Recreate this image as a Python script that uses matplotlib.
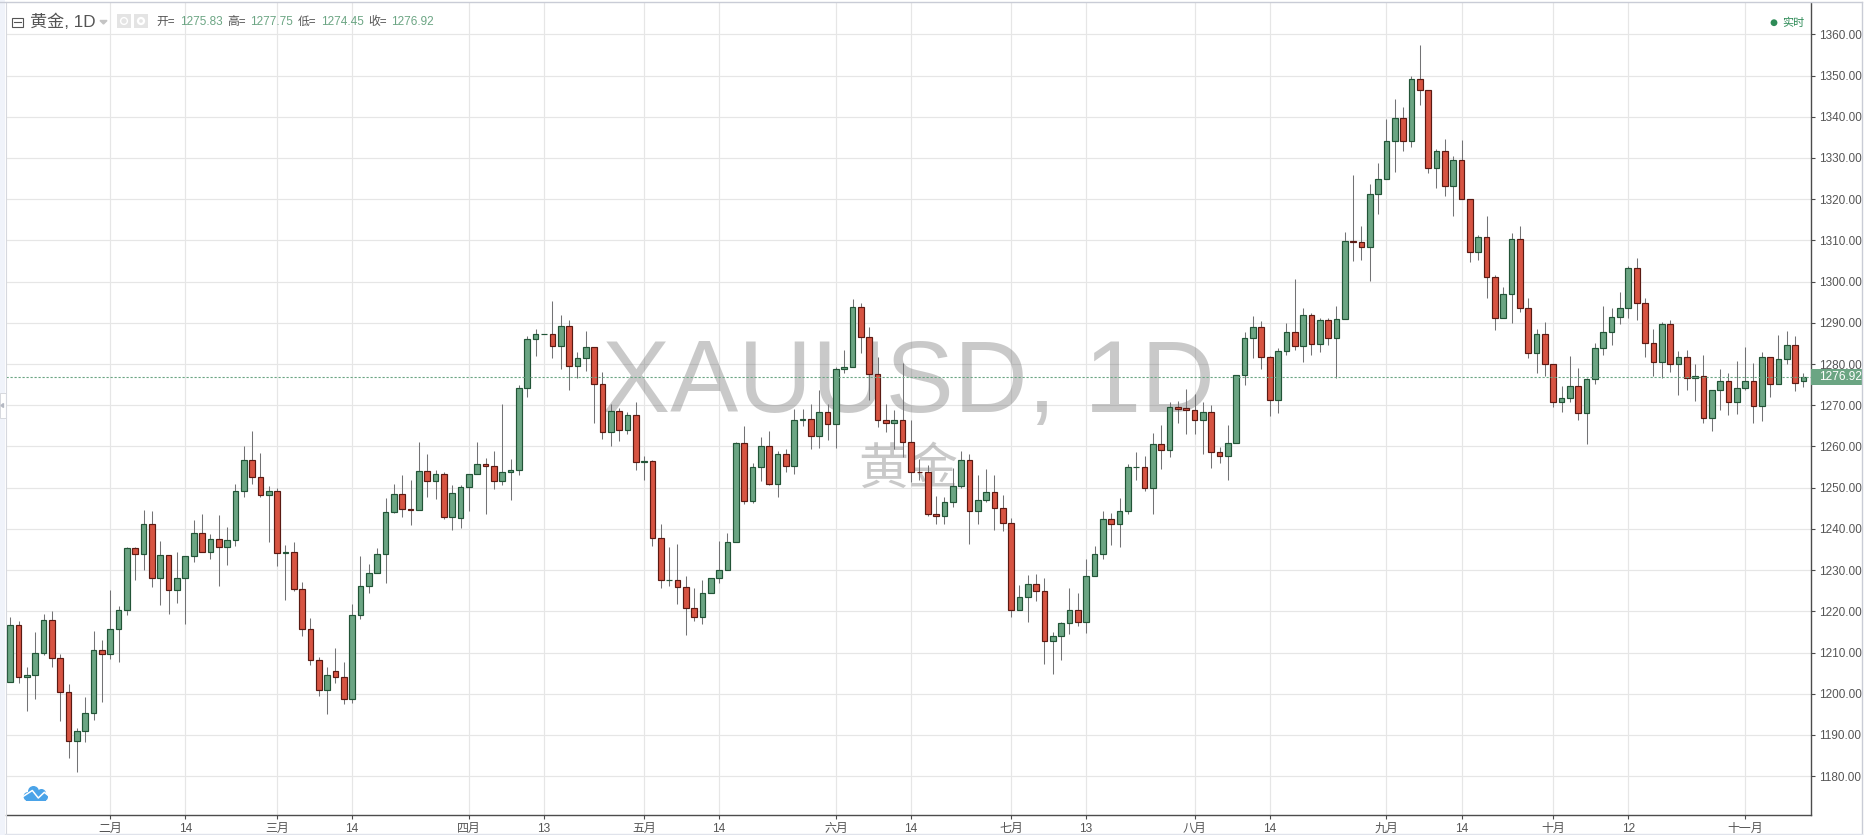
import matplotlib
matplotlib.use('Agg')
import matplotlib.pyplot as plt
from matplotlib.patches import Rectangle, Circle

plt.rcParams['font.family'] = ['Liberation Sans', 'Noto Sans CJK SC', 'DejaVu Sans']

# daily bars
opens = [
    1202.8, 1216.6, 1204, 1204.5, 1209.8, 1217.8, 1208.6, 1200.4, 1188.5, 1190.9,
    1195.3, 1210.5, 1209.6, 1215.6, 1220.2, 1235.3, 1233.8, 1241.3, 1228.2, 1233.6,
    1225.1, 1228.2, 1233.3, 1238.9, 1234.3, 1237.5, 1235.5, 1237.2, 1249.3, 1256.8,
    1252.7, 1248.1, 1249.3, 1234.1, 1234.3, 1225.3, 1215.6, 1208.2, 1200.8, 1205.5,
    1204.1, 1198.8, 1219.2, 1226.2, 1229.2, 1234, 1244.2, 1248.5, 1244.9, 1244.7,
    1254.1, 1251.7, 1253.2, 1242.9, 1242.6, 1250.2, 1253.4, 1255.8, 1255.3, 1251.7,
    1253.9, 1254.4, 1274.2, 1286.1, 1287.2, 1287.3, 1284.4, 1289.3, 1279.6, 1281.5,
    1284.2, 1275.2, 1263.6, 1268.7, 1264.1, 1267.7, 1256.3, 1256.5, 1237.9, 1227.5,
    1227.7, 1225.8, 1220.9, 1218.7, 1224.5, 1228.2, 1230.1, 1236.7, 1260.9, 1246.8,
    1255.1, 1260.2, 1251, 1258.2, 1255.3, 1266.5, 1266.7, 1262.5, 1268.4, 1265.5,
    1278.8, 1279.3, 1293.9, 1286.6, 1277.6, 1266.5, 1265.6, 1266.3, 1261, 1253.8,
    1253.7, 1243.5, 1243.1, 1246.4, 1250.3, 1256.6, 1244.3, 1246.9, 1248.9, 1245,
    1241.4, 1220.3, 1223.4, 1226.6, 1224.9, 1212.7, 1214, 1217.1, 1220.3, 1217.4,
    1228.5, 1233.8, 1242.3, 1241.1, 1244.3, 1254.9, 1254.9, 1249.8, 1260.7, 1259.1,
    1269.5, 1269.3, 1268.8, 1266.4, 1268.3, 1258.6, 1257.7, 1260.8, 1277.3, 1286.3,
    1288.9, 1281.7, 1271.2, 1283.1, 1287.7, 1284.3, 1291.8, 1284.8, 1290.6, 1286.3,
    1290.9, 1309.8, 1309.5, 1308.5, 1321.2, 1324.8, 1334, 1339.6, 1334, 1349.1,
    1346.4, 1327.5, 1331.8, 1323.1, 1329.4, 1320, 1307.3, 1310.9, 1301, 1291.1,
    1297.1, 1310.4, 1293.5, 1282.6, 1287.2, 1279.9, 1270.7, 1271.7, 1274.6, 1268,
    1276.3, 1283.8, 1287.7, 1291.5, 1293.5, 1303.4, 1294.9, 1285, 1280.6, 1289.6,
    1280.1, 1281.8, 1276.5, 1277.2, 1266.8, 1273.8, 1276, 1270.9, 1274.3, 1275.8,
    1269.7, 1281.6, 1275.1, 1281.1, 1284.7, 1275.83,
]
highs = [
    1218.6, 1217.7, 1206.5, 1215, 1219.4, 1220.1, 1209.6, 1202.4, 1191.6, 1199.2,
    1215.2, 1213.1, 1225.2, 1221.2, 1235.5, 1235.5, 1244.6, 1244.3, 1237, 1233.6,
    1234.4, 1233.3, 1242.1, 1243.6, 1238.7, 1243.4, 1240.4, 1250.8, 1260, 1263.7,
    1258.4, 1250.5, 1249.8, 1236, 1236.7, 1227, 1218.4, 1208.9, 1206.4, 1211.2,
    1207.6, 1221.7, 1233.4, 1231.4, 1235.3, 1247.4, 1251, 1253, 1251.8, 1261,
    1258.1, 1254.4, 1253.7, 1250.6, 1250.6, 1253.4, 1261, 1257.1, 1258.8, 1270.4,
    1256.9, 1275, 1286.7, 1288.4, 1287.4, 1295.4, 1292, 1290.6, 1283, 1288.1,
    1284.2, 1278, 1270.4, 1269.4, 1268.3, 1270.9, 1257.6, 1256.7, 1241.1, 1235.5,
    1236.3, 1228.5, 1225.6, 1227.5, 1228.2, 1237, 1238.9, 1261.2, 1264.9, 1256.1,
    1262.4, 1263.7, 1258.8, 1259.5, 1269.2, 1269, 1270.2, 1273.8, 1270.2, 1279.3,
    1283.3, 1295.7, 1294.8, 1288.9, 1281.6, 1270.3, 1268.8, 1280.2, 1266.4, 1256.9,
    1255.4, 1248, 1247.7, 1254.7, 1258.8, 1258.1, 1253.1, 1254.5, 1253.1, 1248.2,
    1242.6, 1226.3, 1228.7, 1229, 1228, 1214.9, 1217.4, 1225.7, 1224.5, 1232.7,
    1235.9, 1244.3, 1243.9, 1247.4, 1255.7, 1258.6, 1257.6, 1263.2, 1265.2, 1270.7,
    1271.1, 1274, 1272.8, 1270.8, 1270.1, 1259.8, 1265.2, 1277.3, 1287.7, 1291.7,
    1290.5, 1281.9, 1283.8, 1289.9, 1300.6, 1293.5, 1292.3, 1291.1, 1291.1, 1294.1,
    1312, 1325.9, 1313.4, 1323.7, 1328.8, 1339.4, 1344.3, 1342.3, 1349.8, 1357.4,
    1346.4, 1332.1, 1334.6, 1330.4, 1334.3, 1320, 1311.4, 1315.9, 1301.5, 1298.6,
    1311.7, 1313.4, 1295.9, 1288.6, 1290.2, 1279.9, 1274.6, 1281.9, 1279, 1276.5,
    1285, 1294, 1293.6, 1297.4, 1303.7, 1305.8, 1296.1, 1288.6, 1290.3, 1290.8,
    1283.1, 1283.5, 1280, 1282.3, 1273.8, 1278.8, 1277.8, 1280.7, 1284.1, 1280.2,
    1282.8, 1281.6, 1287, 1288.1, 1286.9, 1277.75,
]
lows = [
    1202.8, 1202.5, 1195.9, 1198.6, 1209.3, 1206.6, 1193.3, 1184.5, 1180.9, 1188.4,
    1193.7, 1198.1, 1208.5, 1207.8, 1219.2, 1227.7, 1230.1, 1226, 1221.6, 1219.4,
    1221.9, 1216.8, 1232, 1234.3, 1232.8, 1226.2, 1231.3, 1235.9, 1247.8, 1250.9,
    1247.8, 1236.9, 1231.1, 1222.8, 1225, 1214, 1206.9, 1199.4, 1195, 1202.6,
    1197.5, 1197.7, 1218.2, 1224.5, 1229.2, 1226.8, 1243.8, 1242.8, 1240.9, 1244.7,
    1247.7, 1247.2, 1242.4, 1239.7, 1240.2, 1244.3, 1253.4, 1243.6, 1249.6, 1250.6,
    1246.9, 1253.1, 1272, 1281.9, 1287.2, 1281.4, 1278.9, 1273.8, 1276.5, 1278.4,
    1265.7, 1261.8, 1260.1, 1261.3, 1263, 1254.2, 1251.8, 1235.8, 1225.6, 1226.1,
    1221.7, 1214.3, 1217.6, 1216.9, 1224.5, 1226.9, 1230.1, 1236.7, 1246, 1246.3,
    1251.5, 1250.6, 1247.7, 1253.7, 1253.3, 1264.9, 1259.4, 1259.6, 1261.6, 1259.6,
    1277.8, 1279.3, 1282.6, 1271.2, 1264.6, 1263.6, 1259.5, 1257.4, 1251.3, 1251.9,
    1243.1, 1241.3, 1241.3, 1245.4, 1250, 1236.4, 1241.3, 1246.4, 1239.7, 1239.5,
    1218.7, 1220.3, 1217.5, 1222.6, 1207.3, 1204.9, 1208.3, 1214.6, 1216.5, 1214.8,
    1228.5, 1232.8, 1236.2, 1235.5, 1243.5, 1251.9, 1249.3, 1243.7, 1254.5, 1257.4,
    1265.8, 1262.9, 1262.9, 1258.1, 1254.7, 1255.9, 1251.8, 1260.8, 1274.8, 1281.5,
    1278.7, 1267.3, 1268, 1282.1, 1283.5, 1280.6, 1282.1, 1282.8, 1284.7, 1276.7,
    1290.9, 1305.1, 1305.3, 1300.2, 1316.5, 1324.8, 1326.7, 1331.8, 1332.7, 1342.9,
    1326.3, 1322.8, 1320.8, 1315.8, 1320, 1304.8, 1305.3, 1296.1, 1288.3, 1291.1,
    1290, 1292.7, 1281.5, 1277.9, 1277, 1269.6, 1268.4, 1270.8, 1266.5, 1260.7,
    1275.2, 1282.2, 1284.7, 1289.8, 1291.2, 1290.7, 1281.8, 1277, 1276.7, 1278.1,
    1272.5, 1273.8, 1271.1, 1265.8, 1263.8, 1268.8, 1267.6, 1267.9, 1273.6, 1265.8,
    1266.2, 1272.1, 1275.1, 1280.1, 1273.5, 1274.45,
]
closes = [
    1216.6, 1204, 1204.5, 1209.8, 1217.8, 1208.6, 1200.4, 1188.5, 1190.9, 1195.3,
    1210.5, 1209.6, 1215.6, 1220.2, 1235.3, 1233.8, 1241.3, 1228.2, 1233.6, 1225.1,
    1228.2, 1233.3, 1238.9, 1234.3, 1237.5, 1235.5, 1237.2, 1249.3, 1256.8, 1252.7,
    1248.1, 1249.3, 1234.1, 1234.3, 1225.3, 1215.6, 1208.2, 1200.8, 1204.6, 1204.1,
    1198.8, 1219.2, 1226.2, 1229.2, 1234, 1244.2, 1248.5, 1244.9, 1244.6, 1254.1,
    1251.7, 1253.2, 1242.9, 1248.8, 1250.2, 1253.4, 1255.8, 1255.3, 1251.7, 1253.9,
    1254.4, 1274.2, 1286.1, 1287.3, 1287.3, 1284.4, 1289.3, 1279.6, 1281.5, 1284.2,
    1275.2, 1263.6, 1268.7, 1264.1, 1267.7, 1256.3, 1256.5, 1237.9, 1227.5, 1227.7,
    1225.8, 1220.9, 1218.7, 1224.5, 1228.2, 1230.1, 1236.7, 1260.9, 1246.8, 1255.1,
    1260.2, 1251, 1258.2, 1255.3, 1266.5, 1266.7, 1262.5, 1268.4, 1265.5, 1278.8,
    1279.3, 1293.9, 1286.6, 1277.6, 1266.5, 1265.6, 1266.3, 1261, 1253.7, 1253.7,
    1243.5, 1243.1, 1246.4, 1250.3, 1256.6, 1244.3, 1246.9, 1248.9, 1245, 1241.4,
    1220.3, 1223.4, 1226.6, 1224.9, 1212.7, 1214, 1217.1, 1220.3, 1217.4, 1228.5,
    1233.8, 1242.3, 1241.1, 1244.3, 1254.9, 1255, 1249.8, 1260.7, 1259.1, 1269.5,
    1269.2, 1268.8, 1266.4, 1268.3, 1258.6, 1257.7, 1260.8, 1277.3, 1286.3, 1288.9,
    1281.7, 1271.2, 1283.1, 1287.7, 1284.3, 1291.8, 1284.8, 1290.6, 1286.3, 1290.9,
    1309.8, 1309.5, 1308.5, 1321.2, 1324.8, 1334, 1339.6, 1334, 1349.1, 1346.4,
    1327.5, 1331.8, 1323.1, 1329.4, 1320, 1307.3, 1310.9, 1301, 1291.1, 1297.1,
    1310.4, 1293.5, 1282.6, 1287.2, 1279.9, 1270.7, 1271.7, 1274.6, 1268, 1276.3,
    1283.8, 1287.7, 1291.5, 1293.5, 1303.4, 1294.9, 1285, 1280.6, 1289.6, 1280.1,
    1281.8, 1276.5, 1277.2, 1266.8, 1273.8, 1276, 1270.9, 1274.3, 1275.8, 1269.7,
    1281.6, 1275.1, 1281.1, 1284.7, 1275.5, 1276.92,
]

# x axis: bar number of each labelled date
date_ticks = [12, 21, 32, 41, 55, 64, 76, 85, 99, 108, 120, 129, 142, 151, 165, 174, 185, 194, 208]
date_labels = ['二月', '14', '三月', '14', '四月', '13', '五月', '14', '六月', '14',
               '七月', '13', '八月', '14', '九月', '14', '十月', '12', '十一月']
price_ticks = list(range(1180, 1361, 10))

W, H = 1868, 835
UP, DOWN = '#6ba583', '#d75442'
UP_EDGE, DOWN_EDGE = '#225437', '#5b1a13'
WICK = '#737375'
GRID = '#e6e6e6'
TEXT = '#555555'
WATERMARK = (0.31, 0.31, 0.31, 0.3)

fig = plt.figure(figsize=(W / 100, H / 100), dpi=100, facecolor='white')

# main axes, placed in pixels
left, right, top, bottom = 6, 1811, 3, 815.3
ax = fig.add_axes([left / W, 1 - bottom / H, (right - left) / W, (bottom - top) / H])
ax.set_xlim(-0.5, 215.9)
ax.set_ylim(1170.5, 1367.6)

# watermark under the candles
ax.text(0.5, 1268.4, 'XAUUSD, 1D', transform=ax.get_yaxis_transform(), fontsize=73.5, color=WATERMARK,
        ha='center', va='baseline', zorder=1)
ax.text(0.5, 1254.2, '黄金', transform=ax.get_yaxis_transform(), fontsize=36, color=WATERMARK,
        ha='center', va='center', zorder=1)

# candles
xs = list(range(len(opens)))
colors = [UP if c >= o else DOWN for o, c in zip(opens, closes)]
edges = [UP_EDGE if c >= o else DOWN_EDGE for o, c in zip(opens, closes)]
ax.vlines(xs, lows, highs, color=WICK, linewidth=0.75, zorder=3)
ax.bar(xs, [abs(c - o) for o, c in zip(opens, closes)], bottom=[min(o, c) for o, c in zip(opens, closes)],
       width=0.68, color=colors, edgecolor=edges, linewidth=0.85, zorder=4)

# last price line and tag
last = closes[-1]
ax.axhline(last, color=UP, linewidth=0.8, linestyle=(0, (2, 1.6)), zorder=5)
ax.add_patch(Rectangle((1.0, last - 2.0), 51 / (right - left), 3.9, transform=ax.get_yaxis_transform(),
                       facecolor=UP, edgecolor='none', clip_on=False, zorder=6))
ax.text(1.0044, last - 0.05, f'{last:.2f}', transform=ax.get_yaxis_transform(), color='white',
        fontsize=8.6, ha='left', va='center', zorder=7, clip_on=False)

# axes and grid
ax.set_xticks(date_ticks)
ax.set_xticklabels(date_labels)
ax.set_yticks(price_ticks)
ax.set_yticklabels([f'{p:.2f}' for p in price_ticks])
ax.yaxis.tick_right()
ax.grid(True, color=GRID, linewidth=0.85, zorder=0)
ax.set_axisbelow(True)
ax.tick_params(axis='x', length=3, width=0.8, color='#4c4c4c', labelcolor=TEXT, labelsize=8.6, pad=2.5)
ax.tick_params(axis='y', length=3, width=0.8, color='#4c4c4c', labelcolor=TEXT, labelsize=8.5, pad=3)
for side in ['left', 'top']:
    ax.spines[side].set_visible(False)
for side in ['right', 'bottom']:
    ax.spines[side].set_color('#4c4c4c')
    ax.spines[side].set_linewidth(1.0)

# overlay in pixels for the frame and the header
over = fig.add_axes([0, 0, 1, 1], zorder=10)
over.set_xlim(0, W)
over.set_ylim(H, 0)
over.axis('off')
over.patch.set_visible(False)

# window frame
over.add_patch(Rectangle((0, 0), 5, H, facecolor='#f0f3fa', edgecolor='none'))
over.plot([5.5, 5.5], [2, H], color='#d6d8de', linewidth=0.8)
over.plot([0, 1862], [2, 2], color='#c9ccd6', linewidth=1.0)
over.plot([1862, 1862], [2, H], color='#c9ccd6', linewidth=1.0)
over.plot([5, 1862], [834, 834], color='#e0e3eb', linewidth=1.0)
over.add_patch(Rectangle((0, 393), 5.5, 25, facecolor='white', edgecolor='#d6d8de', linewidth=0.7))
over.fill([1, 3.5, 3.5], [405.5, 403.5, 407.5], color='#b4b8c2')

# header: symbol
over.add_patch(Rectangle((11.5, 17.5), 11.5, 9, facecolor='white', edgecolor='#555555', linewidth=0.8))
over.plot([14, 20.5], [22, 22], color='#555555', linewidth=0.8)
over.text(30, 22, '黄金, 1D', fontsize=12.3, color=TEXT, ha='left', va='center')
over.fill([100, 107, 103.5], [20.5, 20.5, 24], color='#c4c4c4')

# header: the two icon boxes
over.add_patch(Rectangle((117, 14), 13.5, 13.5, facecolor='#e4e4e4', edgecolor='none'))
over.add_patch(Rectangle((134, 14), 13.5, 13.5, facecolor='#e4e4e4', edgecolor='none'))
over.add_patch(Circle((124, 21), 3.4, facecolor='none', edgecolor='white', linewidth=1.0))
over.add_patch(Circle((141, 21), 3.0, facecolor='none', edgecolor='white', linewidth=1.6))

# header: OHLC values
for x_lab, x_val, lab, val in [(156, 180, '开=', opens[-1]), (227, 250, '高=', highs[-1]),
                               (298, 321, '低=', lows[-1]), (368, 391, '收=', last)]:
    over.text(x_lab, 22, lab, fontsize=8.5, color=TEXT, ha='left', va='center')
    over.text(x_val, 22, f'{val:.2f}', fontsize=8.5, color=UP, ha='left', va='center')

# real-time marker
over.add_patch(Circle((1774, 22.7), 3.4, facecolor='#2e8b57', edgecolor='none'))
over.text(1782, 22.5, '实时', fontsize=8, color='#2e8b57', ha='left', va='center')

# logo
BLUE = '#4aa3e8'
for cx, cy, r in [(28, 796.5, 4.5), (33.5, 791.5, 5.5), (41.5, 793.5, 4.5), (44, 797, 4)]:
    over.add_patch(Circle((cx, cy), r, facecolor=BLUE, edgecolor='none'))
over.add_patch(Rectangle((26, 793), 20, 8, facecolor=BLUE, edgecolor='none'))
over.plot([23, 32.3, 38.3, 44.3, 49], [796.5, 790.5, 798, 792.3, 796], color='white', linewidth=1.1)

fig.savefig('out.png', dpi=100)
